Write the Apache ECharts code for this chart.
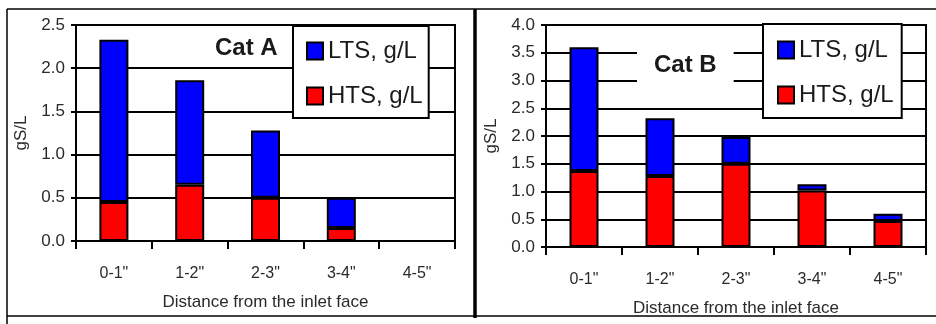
<!DOCTYPE html>
<html>
<head>
<meta charset="utf-8">
<script src="https://cdn.jsdelivr.net/npm/echarts@6/dist/echarts.min.js"></script>
<style>
  html, body { margin: 0; padding: 0; background: #fff; }
  #chart { width: 936px; height: 324px; }
</style>
</head>
<body>
<div id="chart"></div>
<script>
// Sulfur loading by position along the catalyst, two catalysts side by side
const categories = ['0-1"', '1-2"', '2-3"', '3-4"', '4-5"'];
const catA_HTS = [0.45, 0.65, 0.50, 0.15, null];
const catA_LTS = [1.88, 1.21, 0.78, 0.35, null];
const catB_HTS = [1.37, 1.28, 1.50, 1.02, 0.47];
const catB_LTS = [2.23, 1.04, 0.48, 0.11, 0.13];
const catA_ticks = { min: 0, max: 2.5, interval: 0.5 };
const catB_ticks = { min: 0, max: 4.0, interval: 0.5 };

const LTS = 'LTS, g/L';
const HTS = 'HTS, g/L';
const labelFont = "'Liberation Sans', Arial, sans-serif";
const textColor = '#2a2a2a';

const chart = echarts.init(document.getElementById('chart'), null, { renderer: 'canvas' });

function xAxisFor(gridIndex) {
  return {
    type: 'category', gridIndex, data: categories, boundaryGap: true,
    name: 'Distance from the inlet face', nameLocation: 'middle', nameGap: 53,
    nameTextStyle: { fontFamily: labelFont, fontSize: 17, color: textColor },
    axisLine: { lineStyle: { color: '#000', width: 2 } },
    axisTick: { show: true, length: 8, lineStyle: { color: '#000', width: 2 } },
    axisLabel: { margin: 25, fontFamily: labelFont, fontSize: 16, color: textColor },
    splitLine: { show: false }
  };
}
function yAxisFor(gridIndex, ticks) {
  return {
    type: 'value', gridIndex, min: ticks.min, max: ticks.max, interval: ticks.interval,
    name: 'gS/L', nameLocation: 'middle', nameGap: 46,
    nameTextStyle: { fontFamily: labelFont, fontSize: 17, color: textColor },
    axisLine: { show: true, lineStyle: { color: '#000', width: 2 } },
    axisTick: { show: true, length: 5, lineStyle: { color: '#000', width: 2 } },
    axisLabel: { margin: 11, fontFamily: labelFont, fontSize: 17, color: textColor,
      formatter: v => v.toFixed(1) },
    splitLine: { show: true, lineStyle: { color: '#000', width: 2 } }
  };
}
function barSeries(name, data, idx, color) {
  return {
    name, type: 'bar', stack: 'total' + idx, data,
    xAxisIndex: idx, yAxisIndex: idx, barWidth: 29,
    itemStyle: { color, borderColor: '#000', borderWidth: 2 },
    emphasis: { disabled: true }
  };
}
function legendFor(left, top, padding) {
  return {
    data: [LTS, HTS], orient: 'vertical', left, top, padding,
    icon: 'rect', itemWidth: 16, itemHeight: 17, itemGap: 15,
    backgroundColor: '#fff', borderColor: '#000', borderWidth: 2, borderRadius: 0,
    textStyle: { fontFamily: labelFont, fontSize: 24, lineHeight: 30, color: '#1a1a1a' },
    selectedMode: false
  };
}

const option = {
  animation: false,
  backgroundColor: '#fff',
  grid: [
    { left: 76, top: 25, width: 379, height: 216, show: true, borderColor: '#000', borderWidth: 2, backgroundColor: 'transparent' },
    { left: 546, top: 25, width: 380, height: 222, show: true, borderColor: '#000', borderWidth: 2, backgroundColor: 'transparent' }
  ],
  xAxis: [xAxisFor(0), xAxisFor(1)],
  yAxis: [yAxisFor(0, catA_ticks), yAxisFor(1, catB_ticks)],
  title: [
    { text: 'Cat A', left: 206, top: 33, backgroundColor: '#fff', padding: [3, 9],
      textStyle: { fontFamily: labelFont, fontWeight: 'bold', fontSize: 24, color: '#1a1a1a' } },
    { text: 'Cat B', left: 637, top: 45, backgroundColor: '#fff', padding: [8, 17],
      textStyle: { fontFamily: labelFont, fontWeight: 'bold', fontSize: 24, color: '#1a1a1a' } }
  ],
  legend: [
    legendFor(293, 26, [10, 6, 7, 13]),
    legendFor(763, 24, [11, 8, 8, 14])
  ],
  series: [
    barSeries(HTS, catA_HTS, 0, '#ff0000'),
    barSeries(LTS, catA_LTS, 0, '#0000ff'),
    barSeries(HTS, catB_HTS, 1, '#ff0000'),
    barSeries(LTS, catB_LTS, 1, '#0000ff')
  ],
  graphic: [
    // panel frames
    { type: 'line', shape: { x1: 7, y1: 9, x2: 936, y2: 9 }, style: { stroke: '#000', lineWidth: 1.5 }, z: 10 },
    { type: 'line', shape: { x1: 7, y1: 9, x2: 7, y2: 324 }, style: { stroke: '#000', lineWidth: 1.5 }, z: 10 },
    { type: 'line', shape: { x1: 7, y1: 316, x2: 936, y2: 316 }, style: { stroke: '#000', lineWidth: 1.5 }, z: 10 },
    { type: 'line', shape: { x1: 475, y1: 9, x2: 475, y2: 318 }, style: { stroke: '#000', lineWidth: 3.5 }, z: 10 }
  ]
};
chart.setOption(option);
</script>
</body>
</html>
